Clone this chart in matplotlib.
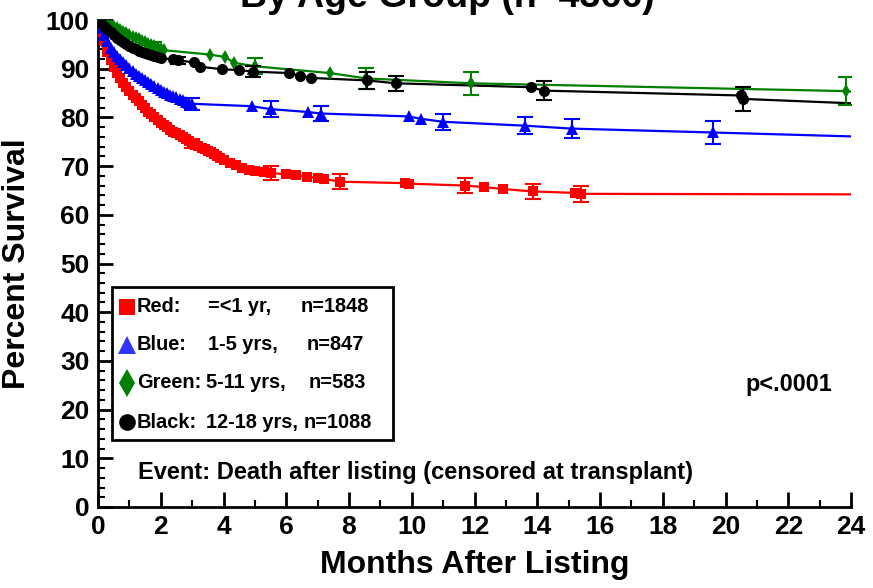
import matplotlib
matplotlib.use("Agg")
import matplotlib.pyplot as plt
from matplotlib.patches import Rectangle
from matplotlib.lines import Line2D

plt.rcParams['font.family'] = ['Liberation Sans', 'DejaVu Sans']
plt.rcParams['font.weight'] = 'bold'

# ---------------- data ----------------
t_red = [0, 0.1, 0.2, 0.3, 0.4, 0.5, 0.6, 0.7, 0.8, 0.9, 1.0, 1.1, 1.2, 1.3, 1.4, 1.5, 1.6, 1.7, 1.8, 1.9,
         2.0, 2.1, 2.2, 2.3, 2.4, 2.5, 2.6, 2.7, 2.8, 2.9, 3.0, 3.1, 3.2, 3.3, 3.4, 3.5, 3.6, 3.7, 3.8, 3.9,
         4.0, 4.2, 4.4, 4.6, 4.8, 5.0, 5.3, 5.5, 6.0, 6.3, 6.65, 7.0, 7.2, 7.7, 9.8, 9.9, 11.7, 12.3, 12.9,
         13.85, 15.2, 15.4, 24]
s_red = [100, 97.6, 95.6, 93.5, 91.7, 90.3, 89.1, 88.0, 87.1, 86.2, 85.4, 84.7, 84.0, 83.3, 82.6, 81.9, 81.2, 80.6, 80.0, 79.4,
         78.9, 78.4, 78.0, 77.5, 77.1, 76.7, 76.3, 75.9, 75.5, 75.1, 74.7, 74.4, 74.1, 73.8, 73.5, 73.2, 72.9, 72.5, 72.1, 71.7,
         71.3, 70.7, 70.2, 69.7, 69.3, 68.9, 68.8, 68.6, 68.3, 68.1, 67.8, 67.6, 67.4, 66.8, 66.5, 66.4, 66.0, 65.7, 65.3,
         64.8, 64.5, 64.3, 64.2]
eb_t_red = [3.0, 5.5, 7.7, 11.7, 13.85, 15.4]
eb_s_red = [74.7, 68.6, 66.8, 66.0, 64.8, 64.3]
eb_e_red = [0.9, 1.4, 1.5, 1.5, 1.6, 1.7]

t_blue = [0, 0.1, 0.2, 0.3, 0.4, 0.5, 0.6, 0.7, 0.8, 0.9, 1.0, 1.1, 1.2, 1.3, 1.4, 1.5, 1.6, 1.7, 1.8, 1.9,
          2.0, 2.1, 2.2, 2.3, 2.4, 2.5, 2.6, 2.7, 2.8, 2.9, 3.0, 4.9, 5.5, 6.7, 7.1, 9.9, 10.3, 11.0, 13.6,
          15.1, 19.6, 24]
s_blue = [100, 98.4, 97.0, 95.6, 94.3, 93.4, 92.6, 91.9, 91.3, 90.7, 90.1, 89.5, 89.0, 88.5, 88.0, 87.6, 87.2, 86.8, 86.4, 86.1,
          85.7, 85.3, 85.0, 84.7, 84.4, 84.1, 83.8, 83.5, 83.2, 83.0, 82.8, 82.3, 81.7, 81.1, 80.8, 80.2, 79.7, 79.1, 78.3,
          77.7, 76.9, 76.1]
eb_t_blue = [3.0, 5.5, 7.1, 11.0, 13.6, 15.1, 19.6]
eb_s_blue = [82.8, 81.7, 80.8, 79.1, 78.3, 77.7, 76.9]
eb_e_blue = [1.2, 1.6, 1.6, 1.6, 1.8, 1.9, 2.3]

t_green = [0, 0.1, 0.2, 0.3, 0.4, 0.5, 0.6, 0.7, 0.8, 0.9, 1.0, 1.1, 1.2, 1.3, 1.4, 1.5, 1.6, 1.7, 1.8, 1.9,
           2.0, 2.1, 3.57, 4.05, 4.35, 5.0, 7.4, 8.55, 11.9, 23.85, 24]
s_green = [100, 99.8, 99.5, 99.2, 98.9, 98.6, 98.3, 97.9, 97.6, 97.3, 97.0, 96.6, 96.3, 96.0, 95.7, 95.4, 95.1, 94.9, 94.6, 94.3,
           94.0, 93.8, 92.9, 92.4, 91.2, 90.5, 89.1, 88.0, 87.0, 85.4, 85.3]
eb_t_green = [1.8, 5.0, 8.55, 11.9, 23.85]
eb_s_green = [94.6, 90.5, 88.0, 87.0, 85.4]
eb_e_green = [0.8, 1.6, 2.2, 2.4, 2.8]

t_black = [0, 0.1, 0.2, 0.3, 0.4, 0.5, 0.6, 0.7, 0.8, 0.9, 1.0, 1.1, 1.2, 1.3, 1.4, 1.5, 1.6, 1.7, 1.8, 1.9,
           2.0, 2.4, 2.55, 3.05, 3.25, 3.95, 4.5, 4.95, 6.1, 6.45, 6.8, 8.57, 9.5, 13.8, 14.2, 20.5, 20.55, 24]
s_black = [100, 99.3, 98.7, 98.1, 97.5, 96.9, 96.4, 95.9, 95.4, 95.0, 94.6, 94.3, 94.0, 93.7, 93.4, 93.2, 93.0, 92.8, 92.6, 92.4,
           92.2, 91.9, 91.7, 91.3, 90.4, 89.9, 89.7, 89.4, 89.1, 88.5, 88.1, 87.6, 87.0, 86.2, 85.5, 84.5, 83.8, 82.9]
eb_t_black = [2.55, 4.95, 8.57, 9.5, 14.2, 20.55]
eb_s_black = [91.7, 89.4, 87.6, 87.0, 85.5, 83.8]
eb_e_black = [0.8, 1.2, 1.7, 1.6, 1.9, 2.5]

legend_groups = ["Red:", "Blue:", "Green:", "Black:"]
legend_ages = ["=<1 yr,", "1-5 yrs,", "5-11 yrs,", "12-18 yrs,"]
legend_ns = ["n=1848", "n=847", "n=583", "n=1088"]

x_ticks = list(range(0, 25, 2))
y_ticks = list(range(0, 101, 10))

title = "By Age Group (n=4366)"
x_label = "Months After Listing"
y_label = "Percent Survival"
event_text = "Event: Death after listing (censored at transplant)"
p_text = "p<.0001"

# ---------------- figure ----------------
W, H = 873, 588
fig = plt.figure(figsize=(W / 100, H / 100), dpi=100)
ax = fig.add_axes([98 / W, 1 - 507 / H, 753 / W, 487 / H])
ax.set_xlim(0, 24)
ax.set_ylim(0, 100)

series = [
    (t_red, s_red, eb_t_red, eb_s_red, eb_e_red, '#ff0000', 's', 7.5),
    (t_blue, s_blue, eb_t_blue, eb_s_blue, eb_e_blue, '#0000ff', '^', 8),
    (t_green, s_green, eb_t_green, eb_s_green, eb_e_green, '#008000', 'd', 7),
    (t_black, s_black, eb_t_black, eb_s_black, eb_e_black, '#000000', 'o', 8),
]
order = [2, 1, 0, 3]
for i in order:
    t, s, et, es, ee, col, mk, ms = series[i]
    ax.plot(t, s, '-', color=col, lw=1.6, zorder=2 + i * 0.1)
    ax.plot(t[:-1], s[:-1], marker=mk, color=col, ms=ms, linestyle='none',
            markeredgewidth=0, zorder=3 + i * 0.1)
    ax.errorbar(et, es, yerr=ee, fmt='none', ecolor=col, elinewidth=1.5, capsize=5.5,
                capthick=1.5, zorder=3 + i * 0.1)

# spines and ticks
for sp in ['top', 'right']:
    ax.spines[sp].set_visible(False)
for sp in ['left', 'bottom']:
    ax.spines[sp].set_linewidth(2)
ax.set_xticks(x_ticks)
ax.set_yticks(y_ticks)
ax.set_xticks(range(0, 25), minor=True)
ax.set_yticks(range(0, 101, 2), minor=True)
ax.tick_params(which='major', direction='in', length=11, width=2, labelsize=19, pad=6)
ax.tick_params(which='minor', direction='in', length=5, width=1.5)
for lbl in ax.get_xticklabels() + ax.get_yticklabels():
    lbl.set_fontweight('bold')

ax.set_xlabel(x_label, fontsize=23, fontweight='bold', labelpad=8)
ax.set_ylabel(y_label, fontsize=23, fontweight='bold', labelpad=10)

fig.text(447.5 / W, 1 - 7 / H, title, ha='center', va='baseline', fontsize=27, fontweight='bold')

# legend box drawn manually
def ax_xy(px, py):
    return (px - 98) / 753, (507 - py) / 487

x0, y0 = ax_xy(112, 440)
x1, y1 = ax_xy(393, 287)
ax.add_patch(Rectangle((x0, y0), x1 - x0, y1 - y0, transform=ax.transAxes, fill=True,
                       facecolor='white', edgecolor='black', lw=2, zorder=10))
row_py = [307, 345, 383, 422]
leg_markers = [('s', 11, '#ff0000'), ('^', 13, '#3333ff'), ('d', 14, '#008000'), ('o', 12, '#000000')]
age_px = [208, 208, 206, 206]
n_px = [301, 307, 309, 304]
for k in range(4):
    mx, my = ax_xy(127, row_py[k])
    m, ms, c = leg_markers[k]
    ax.add_line(Line2D([mx], [my], marker=m, ms=ms, color=c, markeredgewidth=0,
                       transform=ax.transAxes, zorder=11))
    tx, ty = ax_xy(137, row_py[k])
    ax.text(tx, ty, legend_groups[k], transform=ax.transAxes, fontsize=14.4, fontweight='bold',
            va='center', ha='left', zorder=11)
    ax.text(ax_xy(age_px[k], 0)[0], ty, legend_ages[k], transform=ax.transAxes, fontsize=14.4,
            fontweight='bold', va='center', ha='left', zorder=11)
    ax.text(ax_xy(n_px[k], 0)[0], ty, legend_ns[k], transform=ax.transAxes, fontsize=14.4,
            fontweight='bold', va='center', ha='left', zorder=11)

ex, ey = ax_xy(138, 473)
ax.text(ex, ey, event_text, transform=ax.transAxes, fontsize=17, fontweight='bold', va='center', ha='left')
px_, py_ = ax_xy(745, 385)
ax.text(px_, py_, p_text, transform=ax.transAxes, fontsize=16.8, fontweight='bold', va='center', ha='left')

fig.savefig('out.png', dpi=100)
